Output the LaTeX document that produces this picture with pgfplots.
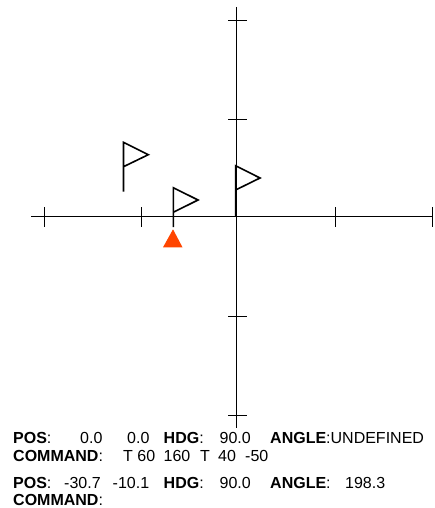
\documentclass[border=0pt]{standalone}
\usepackage{fontspec}
\setmainfont{Liberation Sans}
\usepackage{pgfplots}
\pgfplotsset{compat=1.18}
\definecolor{turtle}{HTML}{FF4500}
\newcommand{\txt}[3]{\node[anchor=base west,inner sep=0pt,font=\fontsize{16pt}{16pt}\selectfont] at (axis cs:#1,#2) {#3};}
\begin{document}
\begin{tikzpicture}
\begin{axis}[
  scale only axis,width=435pt,height=508pt,
  xmin=0,xmax=435,ymin=0,ymax=508,y dir=reverse,
  hide axis,clip=false,
  cycle list={{black,line width=1.15pt,line join=miter,mark=none}}
]
% world axes, in image coordinates
\addplot coordinates {(31,216.4) (433,216.4)};
\addplot coordinates {(236.7,7) (236.7,428.3)};
% x ticks
\addplot coordinates {(43.7,207) (43.7,226.5)};
\addplot coordinates {(141,207) (141,226.5)};
\addplot coordinates {(335,207) (335,226.5)};
\addplot coordinates {(432.6,207) (432.6,226.5)};
% y ticks
\addplot coordinates {(228,20) (246.8,20)};
\addplot coordinates {(228,119) (246.8,119)};
\addplot coordinates {(228,316.5) (246.8,316.5)};
\addplot coordinates {(228,415.7) (246.8,415.7)};
% flags
\addplot+[line width=1.6pt] coordinates {(123.5,191.7) (123.5,142.3) (148.3,154.7) (123.5,166.7)};
\addplot+[line width=1.6pt] coordinates {(173.3,227) (173.3,187.7) (198,200) (173.3,212.3)};
\addplot+[line width=1.6pt] coordinates {(235.6,216.4) (235.6,165.7) (260,178) (235.6,190)};
% turtle
\addplot[draw=none,fill=turtle,mark=none] coordinates {(173,229.3) (182.5,247.3) (163,247.3)} -- cycle;
% status text
\txt{13}{443}{\textbf{POS}:}
\txt{80}{443}{0.0}
\txt{127}{443}{0.0}
\txt{163.5}{443}{\textbf{HDG}:}
\txt{219.5}{443}{90.0}
\txt{270}{443}{\textbf{ANGLE}:UNDEFINED}
\txt{13}{461}{\textbf{COMMAND}:}
\txt{123}{461}{T 60}
\txt{163.5}{461}{160}
\txt{200}{461}{T}
\txt{218}{461}{40}
\txt{245}{461}{-50}
\txt{13}{488}{\textbf{POS}:}
\txt{64}{488}{-30.7}
\txt{112.5}{488}{-10.1}
\txt{163.5}{488}{\textbf{HDG}:}
\txt{219.5}{488}{90.0}
\txt{270}{488}{\textbf{ANGLE}:}
\txt{345}{488}{198.3}
\txt{13}{505.7}{\textbf{COMMAND}:}
\path[use as bounding box] (axis cs:0,0) rectangle (axis cs:435,508);
\end{axis}
\end{tikzpicture}
\end{document}
